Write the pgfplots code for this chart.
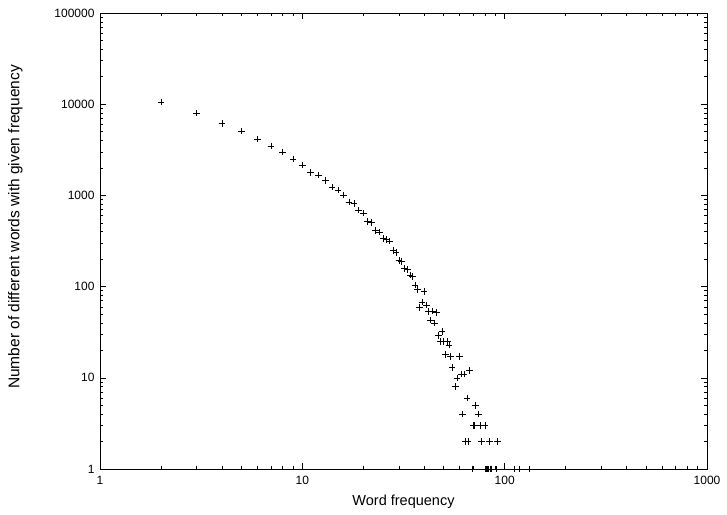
\documentclass[border=0pt]{standalone}
\usepackage{pgfplots}
\pgfplotsset{compat=1.18}
\usepackage{fontspec}
\setmainfont{Liberation Sans}
\begin{document}
\begin{tikzpicture}
\begin{axis}[
  name=ax,
  xmode=log, ymode=log,
  scale only axis,
  width=607pt, height=456pt,
  xmin=1, xmax=1000, ymin=1, ymax=100000,
  xtick={1,10,100,1000},
  xticklabels={1,10,100,1000},
  ytick={1,10,100,1000,10000,100000},
  yticklabels={1,10,100,1000,10000,100000},
  tick align=inside,
  major tick length=6pt,
  minor tick length=3pt,
  every tick/.style={black, line width=0.6pt},
  axis line style={line width=0.9pt},
  xticklabel style={font=\fontsize{12pt}{14pt}\selectfont, yshift=-4pt},
  yticklabel style={font=\fontsize{12pt}{14pt}\selectfont, xshift=-2pt},
  xlabel={Word frequency},
  ylabel={Number of different words with given frequency},
  xlabel style={font=\fontsize{14.5pt}{16pt}\selectfont, yshift=-3pt},
  ylabel style={font=\fontsize{15.5pt}{17pt}\selectfont, yshift=25pt, xshift=14pt},
  clip=false,
]
\addplot[only marks, mark=+, mark size=3.3pt, black, mark options={line width=0.6pt}] coordinates {
(2,10600) (3,8000) (4,6100) (5,5100) (6,4150) (7,3470) (8,2990) (9,2510)
(10,2150) (11,1780) (12,1670) (13,1450) (14,1230) (15,1150) (16,1010)
(17,850) (18,820) (19,690) (20,640) (21,515) (22,505) (23,410) (24,395)
(25,335) (26,330) (27,315) (28,250) (29,238) (30,192) (31,188) (32,159)
(33,155) (34,134) (35,130) (36,104) (37,93) (38,59) (39,68) (40,89)
(41,63) (42,53) (43,43) (44,54) (45,40) (46,52) (47,29) (48,25) (49,32)
(50,25) (51,18) (52,25) (53,23) (54,17) (55,13) (57,8) (58,10) (60,17)
(61,11) (62,4) (63,11) (64,2) (65,6) (66,2) (67,12) (70,3) (71,3)
(72,5) (74,4) (76,3) (77,2) (80,3) (84,2) (92,2)
(69,1) (80,1) (81,1) (82,1) (83,1) (85,1) (86,1) (91,1) (111,1) (118,1) (133,1)
};
\end{axis}
\pgfresetboundingbox
\path ([shift={(-100pt,-45pt)}]ax.south west) rectangle ([shift={(20pt,13pt)}]ax.north east);
\end{tikzpicture}
\end{document}
